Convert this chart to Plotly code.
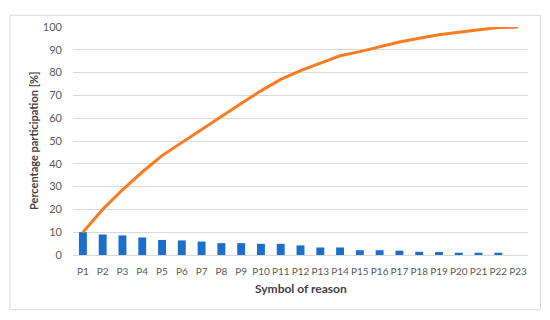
import plotly.graph_objects as go

# reasons P1..P23
reasons = ["P" + str(i) for i in range(1, 24)]

# share of each reason [%] (bars)
share = [10.0, 9.0, 8.6, 7.7, 6.6, 6.4, 5.9, 5.2, 5.2, 4.9, 4.9, 4.2,
         3.3, 3.3, 2.1, 2.1, 1.9, 1.4, 1.3, 1.0, 1.0, 1.0, 0.0]

# cumulative share [%] (line)
cumulative = [10.0, 20.0, 28.6, 36.4, 43.6, 49.3, 55.3, 61.0, 66.4, 72.0, 77.0, 80.9,
              84.3, 87.4, 89.2, 91.4, 93.4, 95.1, 96.6, 97.7, 98.7, 99.8, 100.0]

y_ticks = list(range(0, 101, 10))

BLUE = "#1b6fcb"
ORANGE = "#fb7b22"
GRID = "#d9d9d9"
TXT = "#595959"

fig = go.Figure()

fig.add_trace(go.Bar(
    x=reasons,
    y=share,
    marker=dict(color=BLUE, line=dict(width=0)),
    name="share",
))

fig.add_trace(go.Scatter(
    x=reasons,
    y=cumulative,
    mode="lines",
    line=dict(color=ORANGE, width=3),
    name="cumulative",
))

# the page body adds an 8px margin, so the figure is 8px smaller and shifted
fig.update_layout(
    width=542,
    height=312,
    margin=dict(l=65, r=22, t=14, b=65),
    paper_bgcolor="white",
    plot_bgcolor="white",
    showlegend=False,
    bargap=0.6,
    font=dict(family="Lato, Calibri, sans-serif", size=11, color=TXT),
    xaxis=dict(
        type="category",
        range=[-0.5, 22.5],
        tickangle=0,
        showgrid=False,
        showline=True,
        linecolor=GRID,
        linewidth=1,
        ticks="",
        ticklabelstandoff=7,
        tickfont=dict(size=10, color=TXT),
    ),
    yaxis=dict(
        range=[0, 100],
        tickvals=y_ticks,
        showgrid=True,
        gridcolor=GRID,
        gridwidth=1,
        zeroline=False,
        showline=False,
        ticks="",
        ticklabelstandoff=10,
        tickfont=dict(size=11, color=TXT),
    ),
    annotations=[
        dict(text="<b>Symbol of reason</b>", xref="paper", yref="paper",
             x=0.5, y=0, xanchor="center", yanchor="middle", yshift=-33,
             showarrow=False, font=dict(size=12, color="#404040")),
        dict(text="<b>Percentage participation [%]</b>", xref="paper", yref="paper",
             x=0, y=0.5, xanchor="center", yanchor="middle", xshift=-40,
             textangle=-90, showarrow=False, font=dict(size=11, color="#404040")),
    ],
    shapes=[
        dict(type="rect", xref="paper", yref="paper",
             x0=-0.1385, x1=1.0275, y0=-0.24, y1=1.0515,
             line=dict(color=GRID, width=1), fillcolor="rgba(0,0,0,0)", layer="below"),
    ],
)

fig.write_html("out.html")
